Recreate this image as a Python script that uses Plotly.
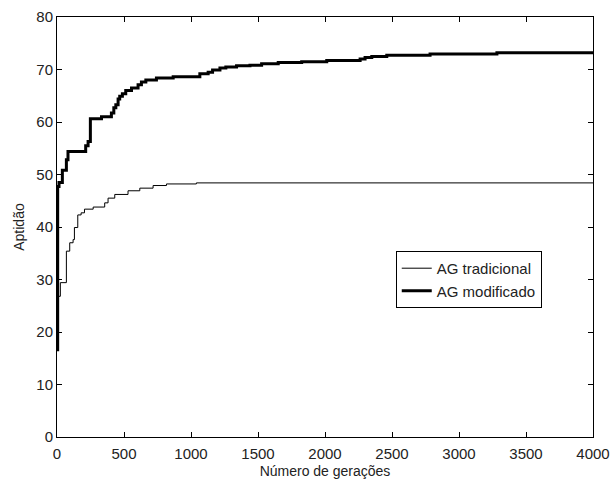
import plotly.graph_objects as go

# AG tradicional (thin line) – generation, fitness
trad_gen = [0, 10, 25, 70, 95, 120, 130, 155, 180, 205, 270, 356, 381, 431, 530, 618, 717, 817, 1040, 4000]
trad_fit = [23.0, 26.8, 29.4, 35.4, 37.0, 37.6, 39.9, 42.3, 42.7, 43.4, 43.8, 44.6, 45.5, 46.2, 46.9, 47.4, 47.9, 48.2, 48.4, 48.4]

# AG modificado (thick line)
mod_gen = [0, 5, 15, 40, 70, 82, 214, 232, 249, 332, 406, 424, 439, 456, 468, 488, 513, 556, 605, 630,
           663, 742, 867, 1066, 1128, 1161, 1216, 1260, 1340, 1440, 1527, 1651, 1826, 2013, 2262, 2299,
           2349, 2461, 2784, 3283, 4000]
mod_fit = [16.6, 47.7, 48.5, 50.8, 52.8, 54.4, 55.5, 56.3, 60.6, 61.0, 61.7, 62.7, 63.3, 64.4, 64.9, 65.4,
           66.0, 66.5, 67.1, 67.6, 68.0, 68.4, 68.6, 69.2, 69.5, 69.9, 70.3, 70.5, 70.7, 70.8, 71.1, 71.35,
           71.5, 71.7, 72.0, 72.3, 72.5, 72.7, 72.95, 73.2, 73.2]

x_ticks = [0, 500, 1000, 1500, 2000, 2500, 3000, 3500, 4000]
y_ticks = [0, 10, 20, 30, 40, 50, 60, 70, 80]

FONT = "Liberation Sans, Arial, sans-serif"

fig = go.Figure()
fig.add_trace(go.Scatter(x=trad_gen, y=trad_fit, mode="lines", line=dict(color="black", width=1, shape="hv"),
                         name="AG tradicional"))
fig.add_trace(go.Scatter(x=mod_gen, y=mod_fit, mode="lines", line=dict(color="black", width=3, shape="hv"),
                         name="AG modificado"))

axis_common = dict(showgrid=False, zeroline=False, showline=True, linecolor="black", linewidth=1,
                   mirror="ticks", ticks="inside", ticklen=5, tickcolor="black", automargin=False,
                   tickfont=dict(family=FONT, size=15, color="#222"))

fig.update_layout(
    width=611, height=479,
    margin=dict(l=57, r=18, t=17, b=42),
    paper_bgcolor="white", plot_bgcolor="white",
    font=dict(family=FONT, size=14, color="#222"),
    xaxis=dict(range=[0, 4000], tickvals=x_ticks, ticktext=[str(v) for v in x_ticks], ticklabelstandoff=3,
               title=dict(text="Número de gerações", font=dict(size=14), standoff=6), **axis_common),
    yaxis=dict(range=[0, 80], tickvals=y_ticks, ticktext=[str(v) for v in y_ticks],
               title=dict(text="Aptidão", font=dict(size=14), standoff=8), **axis_common),
    legend=dict(x=0.632, y=0.443, xanchor="left", yanchor="top", bgcolor="white",
                bordercolor="black", borderwidth=1, itemwidth=30, entrywidth=150,
                font=dict(family=FONT, size=15, color="#222"), tracegroupgap=0),
    showlegend=True,
)

fig.write_html("out.html")
